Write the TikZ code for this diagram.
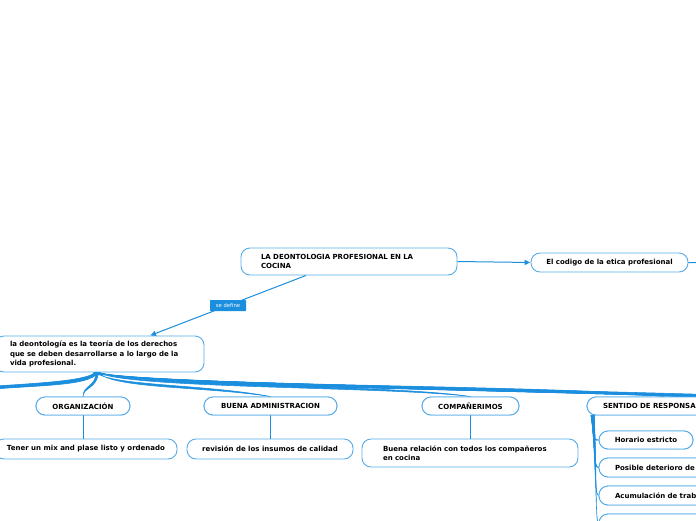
\documentclass[tikz,border=0pt]{standalone}
\usepackage{fontspec}
\setmainfont{DejaVu Sans}
\usetikzlibrary{arrows.meta}
\definecolor{conn}{RGB}{28,142,222}
\definecolor{boxc}{RGB}{86,172,234}
\newcommand\branchfill[4]{%
  \filldraw[conn, line width=0.55pt] ([xshift=-1.5pt]#1) .. controls (#3) and (#4) .. (#2)
    .. controls ([yshift=-2.4pt]#4) and ([yshift=-2.8pt]#3) .. ([xshift=1.5pt]#1) -- cycle;}
\begin{document}
\begin{tikzpicture}[x=1pt,y=-1pt,
  box/.style={draw=boxc, line width=0.9pt, rounded corners=9pt, fill=white,
    font=\fontsize{7}{9.2}\selectfont\bfseries, inner ysep=0pt, inner xsep=0pt},
  lbox/.style={box, align=left},
  cbox/.style={box, align=center},
  link/.style={draw=conn, line width=1pt},
  arr/.style={link, -{Latex[length=6pt,width=6pt]}},
  lbl/.style={fill=conn, text=white, font=\fontsize{5.3}{6}\selectfont, inner sep=0pt,
    minimum width=36pt, minimum height=11pt, rounded corners=0.6pt}]
\useasboundingbox (0,0) rectangle (696,520);
\clip (0,0) rectangle (696,520);
\fill[white] (0,0) rectangle (696,520);

% nodes
\node[lbox, minimum width=216pt, minimum height=27pt, text width=176pt] (main) at (349,261.5)
  {LA DEONTOLOGIA PROFESIONAL EN LA\\COCINA};
\node[cbox, minimum width=157pt, minimum height=19pt] (codigo) at (609.5,262.5)
  {El codigo de la etica profesional};
\node[lbox, minimum width=209pt, minimum height=36pt, text width=179pt] (deo) at (99.5,354)
  {la deontología es la teoría de los derechos\\que se deben desarrollarse a lo largo de la\\vida profesional.};
\node[cbox, minimum width=94pt, minimum height=18pt] (org) at (83,406) {ORGANIZACIÓN};
\node[cbox, minimum width=133pt, minimum height=18pt] (buena) at (270.5,406) {BUENA ADMINISTRACION};
\node[cbox, minimum width=97pt, minimum height=18pt] (comp) at (470.5,406) {COMPAÑERIMOS};
\node[lbox, minimum width=153pt, minimum height=18pt, text width=121pt] (sent) at (663.5,406) {SENTIDO DE RESPONSA};
\node[cbox, minimum width=182pt, minimum height=20pt] (tener) at (86,449) {Tener un mix and plase listo y ordenado};
\node[cbox, minimum width=166pt, minimum height=20pt] (rev) at (270,449) {revisión de los insumos de calidad};
\node[lbox, minimum width=216pt, minimum height=28pt, text width=174pt] (rel) at (470,453)
  {Buena relación con todos los compañeros\\en cocina};
\node[cbox, minimum width=94pt, minimum height=18pt] (hor) at (646,440) {Horario estricto};
\node[lbox, minimum width=160pt, minimum height=19pt, text width=128pt] (pos) at (679,467.5) {Posible deterioro de};
\node[lbox, minimum width=160pt, minimum height=19pt, text width=128pt] (acu) at (679,495.5) {Acumulación de trab};
\node[lbox, minimum width=160pt, minimum height=19pt, text width=128pt] (last) at (679,523.5) {};

% off-picture ends
\coordinate (r0) at (720,263);
\coordinate (r1) at (780,402);
\coordinate (r2) at (860,404);
\coordinate (r3) at (960,406);
\coordinate (r4) at (1080,408);
\coordinate (l1) at (-40,392);
\coordinate (l2) at (-90,394);
\coordinate (l3) at (-150,396);

% connectors
\draw[arr] ([xshift=-43pt]main.south) -- node[lbl] {se define} ([xshift=50.5pt]deo.north);
\draw[arr] (main.east) -- (codigo.west);
\draw[link] (codigo.east) -- (r0);
\draw[link] (org.south) -- (org.south |- tener.north);
\draw[link] (buena.south) -- (buena.south |- rev.north);
\draw[link] (comp.south) -- (comp.south |- rel.north);

% fan of branches from deo
\coordinate (s) at ([xshift=-2.5pt]deo.south);
\branchfill{s}{org.north}{97,386}{83,385}
\branchfill{s}{buena.north}{112,386}{205,384}
\branchfill{s}{comp.north}{125,386}{390,384}
\branchfill{s}{sent.north}{135,386}{590,385}
\branchfill{s}{r1}{140,386}{600,386}
\branchfill{s}{r2}{145,386}{620,387}
\branchfill{s}{r3}{150,386}{640,388}
\branchfill{s}{r4}{155,386}{660,388}
\branchfill{s}{l1}{88,385}{30,382}
\branchfill{s}{l2}{84,385}{10,383}
\branchfill{s}{l3}{80,385}{-10,384}

% branches of SENTIDO
\coordinate (t) at ([xshift=6pt]sent.south west);
\branchfill{t}{hor.west}{594,428}{591,440}
\branchfill{t}{pos.west}{595,440}{593,467}
\branchfill{t}{acu.west}{596,450}{594,495}
\branchfill{t}{last.west}{597,460}{595,523}

% redraw child boxes on top
\node[cbox, minimum width=94pt, minimum height=18pt] at (org) {ORGANIZACIÓN};
\node[cbox, minimum width=133pt, minimum height=18pt] at (buena) {BUENA ADMINISTRACION};
\node[cbox, minimum width=97pt, minimum height=18pt] at (comp) {COMPAÑERIMOS};
\node[lbox, minimum width=153pt, minimum height=18pt, text width=121pt] at (sent) {SENTIDO DE RESPONSA};
\node[cbox, minimum width=94pt, minimum height=18pt] at (hor) {Horario estricto};
\node[lbox, minimum width=160pt, minimum height=19pt, text width=128pt] at (pos) {Posible deterioro de};
\node[lbox, minimum width=160pt, minimum height=19pt, text width=128pt] at (acu) {Acumulación de trab};
\node[lbox, minimum width=160pt, minimum height=19pt, text width=128pt] at (last) {};
\end{tikzpicture}
\end{document}
